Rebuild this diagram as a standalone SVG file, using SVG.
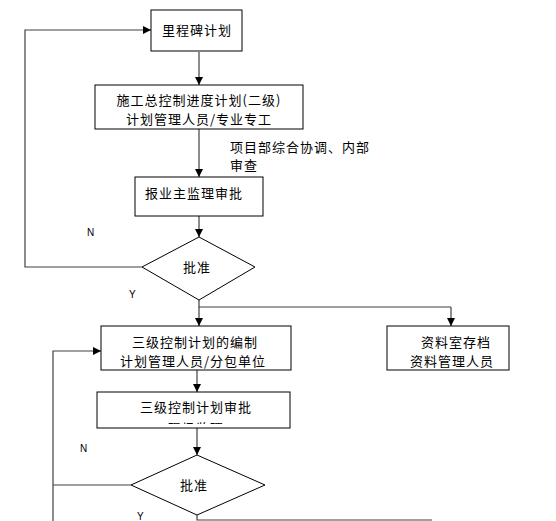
<svg xmlns="http://www.w3.org/2000/svg" width="556" height="521" viewBox="0 0 556 521">
<style>
.box{fill:#fff;stroke:#000;stroke-width:1}
.c{fill:none;stroke:#404040;stroke-width:1.2}
text{font-family:"Noto Sans CJK SC","Liberation Sans",sans-serif;font-size:13px;fill:#000;letter-spacing:1px}
.m{text-anchor:middle}
.yn{font-family:"Liberation Sans",sans-serif;font-size:10px;letter-spacing:0}
</style>
<defs>
<marker id="ah" viewBox="0 0 10 10" refX="10" refY="5" markerWidth="8" markerHeight="8" markerUnits="userSpaceOnUse" orient="auto">
<path d="M0,0 L10,5 L0,10 z" fill="#000"/>
</marker>
<clipPath id="clip6"><rect x="97" y="392" width="193" height="32"/></clipPath>
</defs>
<g id="connectors">
<line class="c" x1="199" y1="52" x2="199" y2="85" marker-end="url(#ah)"/>
<line class="c" x1="199" y1="129" x2="199" y2="177" marker-end="url(#ah)"/>
<line class="c" x1="199" y1="216" x2="199" y2="237" marker-end="url(#ah)"/>
<polyline class="c" points="142,267 25,267 25,30 151,30" marker-end="url(#ah)"/>
<polyline class="c" points="199,300 199,307 451,307"/>
<line class="c" x1="199" y1="307" x2="199" y2="326" marker-end="url(#ah)"/>
<line class="c" x1="451" y1="307" x2="451" y2="326" marker-end="url(#ah)"/>
<line class="c" x1="197" y1="370" x2="197" y2="392" marker-end="url(#ah)"/>
<line class="c" x1="197" y1="428" x2="197" y2="455" marker-end="url(#ah)"/>
<polyline class="c" points="131,485 53,485"/>
<polyline class="c" points="53,521 53,351 101,351" marker-end="url(#ah)"/>
<polyline class="c" points="197,515 197,520 432,520"/>
<text class="yn" x="87" y="236">N</text>
<text class="yn" x="129" y="298">Y</text>
<text class="yn" x="80" y="452">N</text>
<text class="yn" x="137" y="520">Y</text>
<text x="230" y="152">项目部综合协调、内部</text>
<text x="230" y="170">审查</text>
</g>
<g id="n1">
<rect class="box" x="151" y="10" width="91" height="41"/>
<text class="m" x="197" y="35">里程碑计划</text>
</g>
<g id="n2">
<rect class="box" x="95" y="85" width="208" height="44"/>
<text class="m" x="199" y="105">施工总控制进度计划(二级)</text>
<text class="m" x="199" y="124">计划管理人员/专业专工</text>
</g>
<g id="n3">
<rect class="box" x="135" y="177" width="128" height="39"/>
<text x="145" y="198">报业主监理审批</text>
</g>
<g id="n4">
<polygon class="box" points="199,237 255,267 199,300 142,267"/>
<text class="m" x="197" y="272">批准</text>
</g>
<g id="n5">
<rect class="box" x="101" y="326" width="190" height="44"/>
<text class="m" x="195" y="347">三级控制计划的编制</text>
<text class="m" x="193" y="366">计划管理人员/分包单位</text>
</g>
<g id="n6">
<rect class="box" x="387" y="326" width="122" height="44"/>
<text class="m" x="456" y="347">资料室存档</text>
<text class="m" x="452" y="366">资料管理人员</text>
</g>
<g id="n7">
<rect class="box" x="97" y="392" width="193" height="36"/>
<text class="m" x="196" y="412">三级控制计划审批</text>
<text class="m" x="196" y="433" clip-path="url(#clip6)">现场监理</text>
</g>
<g id="n8">
<polygon class="box" points="197,455 265,485 197,515 131,485"/>
<text class="m" x="194" y="490">批准</text>
</g>
</svg>
